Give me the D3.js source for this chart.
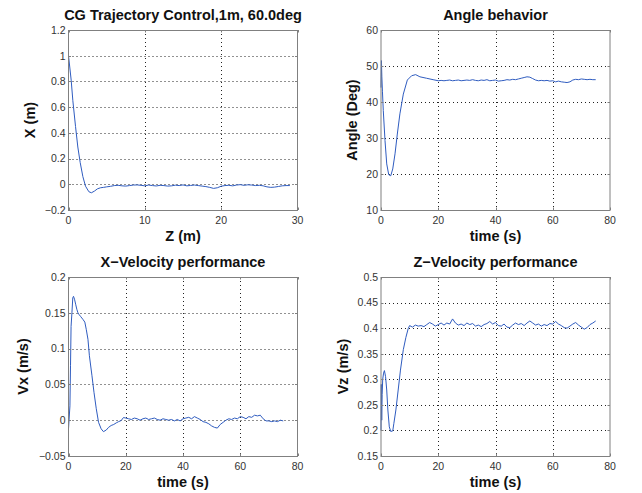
<!DOCTYPE html>
<html><head><meta charset="utf-8">
<script src="https://cdn.jsdelivr.net/npm/d3@7"></script>
<style>body{margin:0;background:#fff}svg{display:block}</style>
</head><body>
<script>
// ---- Data ----
const trajZ = [0,0.35,0.57,0.92,1.22,1.53,1.88,2.23,2.67,3.0,3.4,3.8,4.2,4.6,5.0,5.5,6.0,6.5,7,7.5,8,8.5,9,9.5,10,10.5,11,11.5,12,12.5,13,13.5,14,14.5,15,15.5,16,16.5,17,17.5,18,18.5,19,19.5,20,20.5,21,21.5,22,22.5,23,23.5,24,24.5,25,25.5,26,26.5,27,27.5,28,28.5,29];
const trajX = [1.0,0.81,0.65,0.45,0.29,0.17,0.06,-0.015,-0.058,-0.066,-0.053,-0.035,-0.027,-0.024,-0.02,-0.016,-0.01,-0.008,-0.012,-0.014,-0.01,-0.006,-0.005,-0.008,-0.012,-0.006,-0.01,-0.013,-0.008,-0.01,-0.014,-0.012,-0.007,-0.01,-0.005,-0.012,-0.009,-0.006,-0.01,-0.014,-0.018,-0.024,-0.032,-0.027,-0.015,-0.01,-0.008,-0.012,-0.006,-0.003,-0.008,-0.004,-0.006,-0.01,-0.008,-0.012,-0.02,-0.024,-0.022,-0.017,-0.012,-0.01,-0.01];

const angleT = [0,0.15,0.3,0.5,0.8,1.4,2.0,2.7,3.4,4.1,4.9,5.7,6.6,7.8,9.2,10.7,12.1,13.6,15.9,18.2,20,21,22,23,24,25,26,27,28,29,30,31,32,33,34,35,36,37,38,39,40,41,42,43,44,45,46,47,48,49,50,51,52,53,54,55,56,57,58,59,60,61,62,63,64,65,66,67,68,69,70,71,72,73,74,75];
const angleV = [44,51.5,47,43,37.6,29.3,22.8,19.8,19.5,21.4,25.6,31.1,36.7,42.2,46.1,47.3,47.6,47.0,46.6,46.2,45.9,46.0,45.9,46.0,46.1,45.9,46.0,46.1,45.9,46.0,46.1,46.0,46.2,46.0,45.9,46.1,46.0,46.2,45.9,46.0,46.1,45.8,45.9,46.0,46.2,46.1,46.3,46.2,46.4,46.6,46.8,47.0,46.9,46.5,46.1,45.9,46.0,45.9,46.0,45.8,45.9,45.6,45.8,45.6,45.5,45.4,45.6,46.1,46.3,46.2,46.4,46.3,46.2,46.3,46.2,46.2];

const vxT = [0,0.5,0.7,0.9,1.2,1.5,1.75,2.1,2.5,2.9,3.3,3.6,4.2,5.0,5.7,6.2,6.8,7.3,8.2,8.9,9.7,10.5,11.4,12.2,13.2,14.0,14.9,15.8,16.7,17.5,18.4,19.2,20,21,22,23,24,25,26,27,28,29,30,31,32,33,34,35,36,37,38,39,40,41,42,43,44,45,46,47,48,49,50,51,52,53,54,55,56,57,58,59,60,61,62,63,64,65,66,67,68,69,70,71,72,73,74,75];
const vxV = [-0.012,0.02,0.076,0.131,0.15,0.171,0.173,0.169,0.162,0.155,0.15,0.148,0.145,0.141,0.137,0.127,0.113,0.09,0.062,0.039,0.016,-0.003,-0.012,-0.016,-0.0137,-0.01,-0.0074,-0.006,-0.0037,-0.002,-0.0005,0.0037,0.003,0.002,0.001,0.003,0.002,0.000,0.002,0.003,0.001,0.002,0.003,0.001,0.000,0.002,0.001,0.000,0.001,-0.001,0.001,-0.001,0.002,0.003,0.004,0.002,0.005,0.003,0.001,-0.002,-0.003,-0.005,-0.008,-0.010,-0.011,-0.006,-0.003,0.000,0.002,0.001,0.003,0.002,0.005,0.004,0.002,0.005,0.004,0.007,0.006,0.007,0.002,-0.001,-0.001,-0.002,-0.001,-0.002,0.000,-0.001];

const vzT = [0,0.1,0.25,0.4,0.6,0.9,1.2,1.6,2.0,2.4,2.9,3.4,4.1,4.5,5.2,6.0,6.8,7.8,8.7,9.5,10,11,12,13,14,15,16,17,18,19,20,21,22,23,24,25,26,27,28,29,30,31,32,33,34,35,36,37,38,39,40,41,42,43,44,45,46,47,48,49,50,51,52,53,54,55,56,57,58,59,60,61,62,63,64,65,66,67,68,69,70,71,72,73,74,75];
const vzV = [0.2,0.29,0.22,0.27,0.3,0.312,0.317,0.305,0.279,0.24,0.207,0.198,0.199,0.214,0.24,0.279,0.318,0.358,0.382,0.399,0.405,0.402,0.406,0.404,0.405,0.403,0.407,0.411,0.408,0.404,0.407,0.41,0.406,0.41,0.408,0.418,0.41,0.406,0.408,0.405,0.41,0.407,0.409,0.404,0.406,0.403,0.407,0.409,0.413,0.408,0.411,0.405,0.404,0.408,0.402,0.401,0.406,0.41,0.407,0.409,0.405,0.41,0.414,0.41,0.406,0.408,0.404,0.407,0.405,0.409,0.408,0.413,0.408,0.405,0.401,0.4,0.404,0.408,0.411,0.406,0.402,0.398,0.401,0.407,0.41,0.414];

const xTicks1 = [0,10,20,30];
const yTicks1 = [-0.2,0,0.2,0.4,0.6,0.8,1,1.2];
const timeTicks = [0,20,40,60,80];
const yTicks2 = [10,20,30,40,50,60];
const yTicks3 = [-0.05,0,0.05,0.1,0.15,0.2];
const yTicks4 = [0.15,0.2,0.25,0.3,0.35,0.4,0.45,0.5];

const titles = ["CG Trajectory Control,1m, 60.0deg","Angle behavior","X\u2212Velocity performance","Z\u2212Velocity performance"];
const xLabels = ["Z (m)","time (s)","time (s)","time (s)"];
const yLabels = ["X (m)","Angle (Deg)","Vx (m/s)","Vz (m/s)"];

// ---- Layout ----
const panels = [
  {x0:68.5,x1:297.5,y0:30,y1:210,xd:[0,30],yd:[-0.2,1.2],xt:xTicks1,yt:yTicks1,xs:trajZ,ys:trajX,ylx:35},
  {x0:381,x1:610,y0:30,y1:210,xd:[0,80],yd:[10,60],xt:timeTicks,yt:yTicks2,xs:angleT,ys:angleV,ylx:357},
  {x0:68.5,x1:297.5,y0:277,y1:456,xd:[0,80],yd:[-0.05,0.2],xt:timeTicks,yt:yTicks3,xs:vxT,ys:vxV,ylx:28},
  {x0:381,x1:610,y0:277,y1:456,xd:[0,80],yd:[0.15,0.5],xt:timeTicks,yt:yTicks4,xs:vzT,ys:vzV,ylx:348}
];

const svg = d3.select("body").append("svg").attr("width",642).attr("height",493);
const font = "Liberation Sans, Arial, Helvetica, sans-serif";
const fmt = v => { let s = String(+v.toFixed(4)); return s.replace("-","\u2212"); };

panels.forEach((p,i)=>{
  const x = d3.scaleLinear().domain(p.xd).range([p.x0,p.x1]);
  const y = d3.scaleLinear().domain(p.yd).range([p.y1,p.y0]);
  const g = svg.append("g");
  // grid
  g.selectAll(".gx").data(p.xt.slice(1,-1)).enter().append("line")
    .attr("x1",d=>Math.round(x(d))+0.5).attr("x2",d=>Math.round(x(d))+0.5)
    .attr("y1",p.y0).attr("y2",p.y1)
    .attr("stroke","#222").attr("stroke-width",1).attr("stroke-dasharray","1,3");
  g.selectAll(".gy").data(p.yt.slice(1,-1)).enter().append("line")
    .attr("y1",d=>Math.round(y(d))+0.5).attr("y2",d=>Math.round(y(d))+0.5)
    .attr("x1",p.x0).attr("x2",p.x1)
    .attr("stroke","#222").attr("stroke-width",1).attr("stroke-dasharray","1,3");
  // data line
  const pts = p.xs.map((v,k)=>[v,p.ys[k]]);
  g.append("path").datum(pts)
    .attr("d",d3.line().x(d=>x(d[0])).y(d=>y(d[1])))
    .attr("fill","none").attr("stroke","#2f5cc0").attr("stroke-width",1);
  // box
  g.append("rect").attr("x",p.x0).attr("y",p.y0+0.5)
    .attr("width",p.x1-p.x0).attr("height",p.y1-p.y0)
    .attr("fill","none").attr("stroke","#808080").attr("stroke-width",1);
  // ticks (inward, all sides)
  const tl = 2.5;
  p.xt.forEach(d=>{
    const xx = Math.round(x(d))+0.5;
    g.append("line").attr("x1",xx).attr("x2",xx).attr("y1",p.y1).attr("y2",p.y1-tl).attr("stroke","#808080");
    g.append("line").attr("x1",xx).attr("x2",xx).attr("y1",p.y0).attr("y2",p.y0+tl).attr("stroke","#808080");
  });
  p.yt.forEach(d=>{
    const yy = Math.round(y(d))+0.5;
    g.append("line").attr("y1",yy).attr("y2",yy).attr("x1",p.x0).attr("x2",p.x0+tl).attr("stroke","#808080");
    g.append("line").attr("y1",yy).attr("y2",yy).attr("x1",p.x1).attr("x2",p.x1-tl).attr("stroke","#808080");
  });
  // tick labels
  g.selectAll(".xl").data(p.xt).enter().append("text")
    .attr("x",d=>x(d)).attr("y",p.y1+14).attr("text-anchor","middle")
    .attr("font-family",font).attr("font-size",10.5).attr("fill","#333").text(fmt);
  g.selectAll(".yl").data(p.yt).enter().append("text")
    .attr("x",p.x0-3).attr("y",d=>y(d)+3.8).attr("text-anchor","end")
    .attr("font-family",font).attr("font-size",10.5).attr("fill","#333").text(fmt);
  // title
  g.append("text").attr("x",(p.x0+p.x1)/2).attr("y",p.y0-10).attr("text-anchor","middle")
    .attr("font-family",font).attr("font-size",14.5).attr("font-weight","bold").attr("fill","#111").text(titles[i]);
  // x label
  g.append("text").attr("x",(p.x0+p.x1)/2).attr("y",p.y1+30.5).attr("text-anchor","middle")
    .attr("font-family",font).attr("font-size",14.5).attr("font-weight","bold").attr("fill","#111").text(xLabels[i]);
  // y label
  const cy = (p.y0+p.y1)/2;
  g.append("text").attr("transform",`translate(${p.ylx},${cy}) rotate(-90)`).attr("text-anchor","middle")
    .attr("font-family",font).attr("font-size",14.5).attr("font-weight","bold").attr("fill","#111").text(yLabels[i]);
});
</script>
</body></html>
